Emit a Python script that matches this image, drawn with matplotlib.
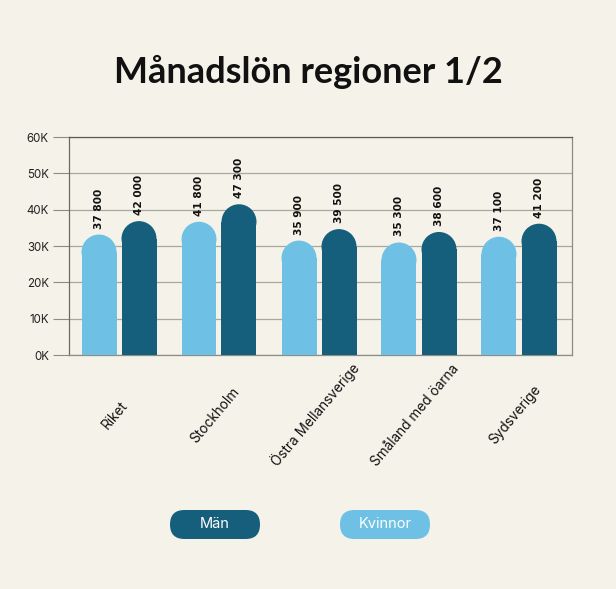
import matplotlib.pyplot as plt
from matplotlib.patches import Ellipse, FancyBboxPatch

regions = ["Riket", "Stockholm", "Östra Mellansverige", "Småland med öarna", "Sydsverige"]
kvinnor = [37800, 41800, 35900, 35300, 37100]
man = [42000, 47300, 39500, 38600, 41200]
yticks = [0, 10000, 20000, 30000, 40000, 50000, 60000]
ytick_labels = ["0K", "10K", "20K", "30K", "40K", "50K", "60K"]

bg = "#f5f3e9"
light = "#6ec1e4"
dark = "#165f7c"

W, H = 616, 589
fig = plt.figure(figsize=(W / 100, H / 100), dpi=100, facecolor=bg)

# axis with the grid and the K ticks
ax = fig.add_axes([69 / W, 1 - 355 / H, 503 / W, 218 / H])
ax.set_facecolor(bg)
ax.set_xlim(-0.5, 4.53)
ax.set_ylim(0, 60000)
ax.set_yticks(yticks)
ax.set_yticklabels(ytick_labels, fontsize=8.3, color="#222222", family="Inter")
ax.tick_params(axis="y", length=11.5, width=0.8, color="#8c8c84", pad=3)
ax.grid(axis="y", color="#a9a89f", lw=0.9)
ax.set_axisbelow(True)
for s in ax.spines.values():
    s.set_color("#8c8c84")
    s.set_linewidth(0.9)
ax.spines["top"].set_color("#5a5a55")
ax.spines["left"].set_color("#6a6a64")

x = list(range(len(regions)))
ax.set_xticks(x)
ax.set_xticklabels([])
ax.tick_params(axis="x", length=0)
for i, name in enumerate(regions):
    ax.annotate(name, xy=(i, 0), xycoords=("data", "axes fraction"),
                xytext=(-4, -60), textcoords="offset pixels",
                rotation=50, ha="center", va="center",
                fontsize=9.8, family="Inter", color="#111111")

# bars are drawn on their own scale (they sit lower than the K grid)
bx = ax.twinx()
bx.set_ylim(0, 68400)
bx.set_xlim(ax.get_xlim())
bx.axis("off")

bw = 0.35
px_per_unit = 218 / 68400
r = (bw * 100 / 2) / px_per_unit  # cap radius in data units


def rounded_bar(xc, val, color):
    bx.bar(xc, val - r, width=bw, color=color, lw=0)
    bx.add_patch(Ellipse((xc, val - r), bw, 2 * r, color=color, lw=0))
    bx.annotate(f"{val:,}".replace(",", " "), xy=(xc, val), xytext=(0, 6),
                textcoords="offset pixels", rotation=90, ha="center", va="bottom",
                fontsize=7.6, fontweight="bold", color="#111111")


for i in x:
    rounded_bar(i - 0.2, kvinnor[i], light)
    rounded_bar(i + 0.2, man[i], dark)

fig.text(0.5, 1 - 82.7 / H, "Månadslön regioner 1/2", ha="center", va="baseline",
         fontsize=26, fontweight="bold", family="Lato", color="#111111")

# legend pills
lx = fig.add_axes([0, 0, 1, 1])
lx.set_xlim(0, W)
lx.set_ylim(H, 0)
lx.axis("off")
for cx, label, col in [(215, "Män", dark), (385, "Kvinnor", light)]:
    lx.add_patch(FancyBboxPatch((cx - 45, 510), 90, 29,
                                boxstyle="round,pad=0,rounding_size=14.5",
                                fc=col, ec="none"))
    lx.text(cx, 524.5, label, ha="center", va="center", fontsize=10.5,
            family="Inter", color="white")

fig.savefig("out.png", dpi=100, facecolor=bg)
